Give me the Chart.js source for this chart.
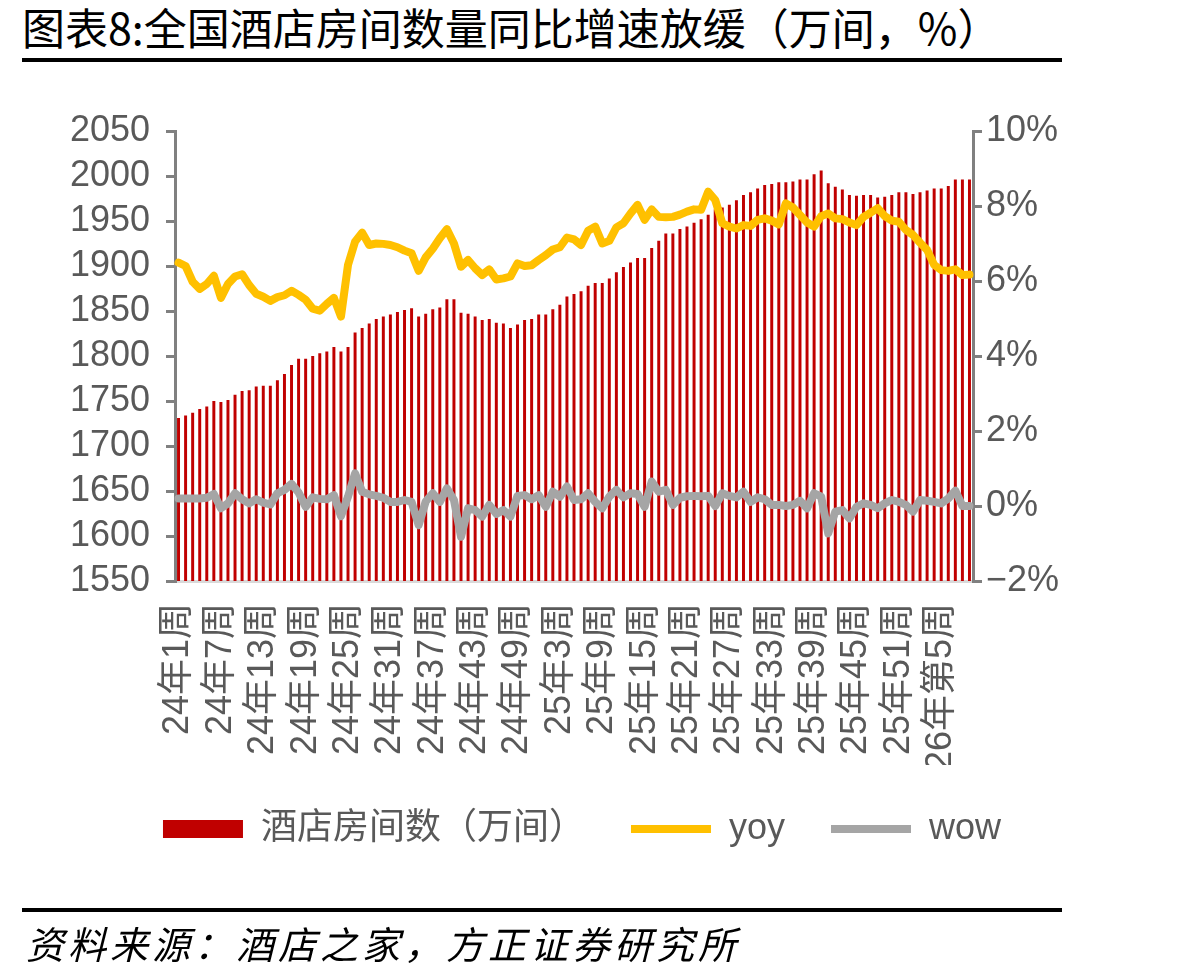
<!DOCTYPE html>
<html lang="zh-CN">
<head>
<meta charset="utf-8">
<title>全国酒店房间数量同比增速放缓</title>
<script src="https://cdn.jsdelivr.net/npm/chart.js@4.4.1/dist/chart.umd.min.js"></script>
<style>
  html, body { margin: 0; padding: 0; background: #fff; }
  body { width: 1188px; height: 980px; position: relative; overflow: hidden;
         font-family: "Noto Sans CJK SC", sans-serif; }
  #chart { position: absolute; left: 0; top: 0; }
  .title { position: absolute; left: 22px; top: 0px; font-size: 43px; line-height: 52px; color: #000; white-space: nowrap; }
  .rule { position: absolute; left: 22px; width: 1040px; height: 4px; background: #000; }
  .source { position: absolute; left: 26px; top: 918px; font-size: 38px; line-height: 50px;
            font-style: italic; letter-spacing: 4px; color: #000; white-space: nowrap; }
</style>
</head>
<body>
<div class="title">图表8:全国酒店房间数量同比增速放缓（万间，%）</div>
<div class="rule" style="top:58px"></div>
<canvas id="chart" width="1188" height="980"></canvas>
<div class="rule" style="top:908px"></div>
<div class="source">资料来源：酒店之家，方正证券研究所</div>

<script>
// weekly categories, 24年1周 .. 26年第9周
const weeks = [
  '24年1周','24年2周','24年3周','24年4周','24年5周','24年6周','24年7周','24年8周','24年9周','24年10周',
  '24年11周','24年12周','24年13周','24年14周','24年15周','24年16周','24年17周','24年18周','24年19周','24年20周',
  '24年21周','24年22周','24年23周','24年24周','24年25周','24年26周','24年27周','24年28周','24年29周','24年30周',
  '24年31周','24年32周','24年33周','24年34周','24年35周','24年36周','24年37周','24年38周','24年39周','24年40周',
  '24年41周','24年42周','24年43周','24年44周','24年45周','24年46周','24年47周','24年48周','24年49周','24年50周',
  '24年51周','24年52周',
  '25年1周','25年2周','25年3周','25年4周','25年5周','25年6周','25年7周','25年8周','25年9周','25年10周',
  '25年11周','25年12周','25年13周','25年14周','25年15周','25年16周','25年17周','25年18周','25年19周','25年20周',
  '25年21周','25年22周','25年23周','25年24周','25年25周','25年26周','25年27周','25年28周','25年29周','25年30周',
  '25年31周','25年32周','25年33周','25年34周','25年35周','25年36周','25年37周','25年38周','25年39周','25年40周',
  '25年41周','25年42周','25年43周','25年44周','25年45周','25年46周','25年47周','25年48周','25年49周','25年50周',
  '25年51周','25年52周',
  '26年第1周','26年第2周','26年第3周','26年第4周','26年第5周','26年第6周','26年第7周','26年第8周','26年第9周'
];

// 酒店房间数（万间）
const roomCount = [
  1731, 1734, 1737, 1741, 1744, 1750, 1749, 1751, 1757, 1761,
  1762, 1766, 1767, 1767, 1773, 1780, 1790, 1797, 1797, 1800,
  1803, 1805, 1810, 1805, 1810, 1826, 1831, 1836, 1841, 1844,
  1846, 1849, 1851, 1853, 1844, 1847, 1852, 1854, 1863, 1863,
  1848, 1847, 1844, 1840, 1841, 1837, 1836, 1831, 1835, 1840,
  1841, 1846, 1846, 1852, 1857, 1866, 1869, 1872, 1878, 1881,
  1881, 1886, 1893, 1899, 1904, 1909, 1909, 1920, 1928, 1936,
  1936, 1941, 1944, 1948, 1952, 1957, 1963, 1965, 1968, 1973,
  1979, 1982, 1986, 1990, 1991, 1993, 1993, 1994, 1996, 1996,
  2002, 2006, 1992, 1988, 1985, 1979, 1978, 1979, 1979, 1976,
  1977, 1979, 1982, 1982, 1980, 1982, 1984, 1986, 1986, 1989,
  1996, 1996, 1996
];

// yoy, %
const yoyPct = [
  6.49, 6.40, 5.98, 5.79, 5.92, 6.14, 5.55, 5.92, 6.12, 6.18,
  5.89, 5.66, 5.58, 5.47, 5.57, 5.62, 5.74, 5.63, 5.50, 5.26,
  5.21, 5.39, 5.55, 5.05, 6.43, 7.05, 7.29, 6.96, 7.00, 6.99,
  6.96, 6.90, 6.81, 6.74, 6.27, 6.63, 6.86, 7.14, 7.38, 7.00,
  6.38, 6.56, 6.34, 6.16, 6.31, 6.04, 6.07, 6.12, 6.47, 6.40,
  6.42, 6.56, 6.69, 6.84, 6.90, 7.16, 7.11, 6.96, 7.34, 7.45,
  7.00, 7.07, 7.43, 7.54, 7.80, 8.03, 7.63, 7.91, 7.71, 7.70,
  7.71, 7.77, 7.85, 7.91, 7.90, 8.38, 8.16, 7.54, 7.45, 7.40,
  7.49, 7.47, 7.63, 7.67, 7.61, 7.51, 8.07, 7.96, 7.76, 7.56,
  7.45, 7.73, 7.80, 7.67, 7.65, 7.56, 7.49, 7.71, 7.82, 7.94,
  7.73, 7.61, 7.58, 7.36, 7.23, 7.02, 6.83, 6.43, 6.29, 6.27,
  6.31, 6.16, 6.17
];

// wow, %
const wowPct = [
  0.20, 0.20, 0.20, 0.20, 0.22, 0.32, -0.06, 0.07, 0.34, 0.18,
  0.07, 0.18, 0.09, 0.04, 0.34, 0.43, 0.59, 0.36, -0.02, 0.23,
  0.19, 0.18, 0.29, -0.27, 0.25, 0.87, 0.38, 0.31, 0.27, 0.22,
  0.11, 0.11, 0.16, 0.11, -0.51, 0.12, 0.34, 0.11, 0.47, 0.16,
  -0.82, -0.06, -0.11, -0.28, 0.03, -0.21, -0.11, -0.28, 0.27, 0.29,
  0.18, 0.29, -0.02, 0.38, 0.25, 0.52, 0.16, 0.18, 0.34, 0.11,
  -0.06, 0.25, 0.43, 0.23, 0.34, 0.32, -0.02, 0.65, 0.38, 0.43,
  0.03, 0.22, 0.26, 0.27, 0.26, 0.27, 0.00, 0.34, 0.27, 0.23,
  0.38, 0.11, 0.23, 0.18, 0.03, 0.03, 0.00, 0.03, 0.14, -0.06,
  0.34, 0.25, -0.73, -0.15, -0.11, -0.33, -0.02, 0.07, 0.03, -0.06,
  0.07, 0.16, 0.11, 0.03, -0.15, 0.16, 0.14, 0.11, 0.07, 0.20,
  0.41, 0.00, 0.00
];

// axis ranges
const roomAxis = [1550, 2050, 50];
const pctAxis = [-2, 10, 2];
const labelEvery = 6;

const tickFont = { family: '"Liberation Sans", "Noto Sans CJK SC", sans-serif', size: 36 };
const grey = '#595959';

new Chart(document.getElementById('chart'), {
  data: {
    labels: weeks,
    datasets: [
      {
        type: 'bar',
        label: '酒店房间数（万间）',
        data: roomCount,
        backgroundColor: '#C00000',
        borderWidth: 0,
        barPercentage: 0.42,
        categoryPercentage: 1,
        pointStyle: 'rect',
        yAxisID: 'y',
        order: 3
      },
      {
        type: 'line',
        label: 'yoy',
        data: yoyPct,
        borderColor: '#FFC000',
        backgroundColor: '#FFC000',
        borderWidth: 8,
        borderCapStyle: 'round',
        borderJoinStyle: 'round',
        pointRadius: 0,
        pointStyle: 'line',
        tension: 0,
        yAxisID: 'y1',
        order: 1
      },
      {
        type: 'line',
        label: 'wow',
        data: wowPct,
        borderColor: '#A5A5A5',
        backgroundColor: '#A5A5A5',
        borderWidth: 8,
        borderCapStyle: 'round',
        borderJoinStyle: 'round',
        pointRadius: 0,
        pointStyle: 'line',
        tension: 0,
        yAxisID: 'y1',
        order: 2
      }
    ]
  },
  options: {
    responsive: false,
    animation: false,
    devicePixelRatio: 1,
    layout: { padding: { top: 131, left: 0, right: 24, bottom: 123 } },
    scales: {
      x: {
        afterFit: s => { s.height = 184; },
        grid: { display: false },
        border: { display: true, color: '#D9D9D9', width: 3 },
        ticks: {
          autoSkip: false,
          minRotation: 90,
          maxRotation: 90,
          padding: 14,
          color: grey,
          font: tickFont,
          callback: (v, i) => (i % labelEvery === 0 ? weeks[i] : '')
        }
      },
      y: {
        position: 'left',
        min: roomAxis[0],
        max: roomAxis[1],
        afterFit: s => { s.width = 175; },
        grid: { drawOnChartArea: false, drawTicks: true, tickLength: 9, color: '#808080', lineWidth: 3 },
        border: { display: true, color: '#808080', width: 3 },
        ticks: {
          stepSize: roomAxis[2],
          autoSkip: false,
          padding: 16,
          color: grey,
          font: tickFont,
          callback: v => String(v)
        }
      },
      y1: {
        position: 'right',
        min: pctAxis[0],
        max: pctAxis[1],
        afterFit: s => { s.width = 191; },
        grid: { drawOnChartArea: false, drawTicks: true, tickLength: 9, color: '#808080', lineWidth: 3 },
        border: { display: true, color: '#808080', width: 3 },
        ticks: {
          stepSize: pctAxis[2],
          autoSkip: false,
          padding: 4,
          color: grey,
          font: tickFont,
          callback: v => (v < 0 ? '\u2212' + Math.abs(v) : v) + '%'
        }
      }
    },
    plugins: {
      tooltip: { enabled: false },
      legend: {
        position: 'bottom',
        labels: {
          usePointStyle: true,
          pointStyleWidth: 80,
          boxHeight: 18,
          padding: 46,
          color: grey,
          font: { family: '"Liberation Sans", "Noto Sans CJK SC", sans-serif', size: 36 },
          sort: (a, b) => a.datasetIndex - b.datasetIndex
        }
      }
    }
  }
});
</script>
</body>
</html>
